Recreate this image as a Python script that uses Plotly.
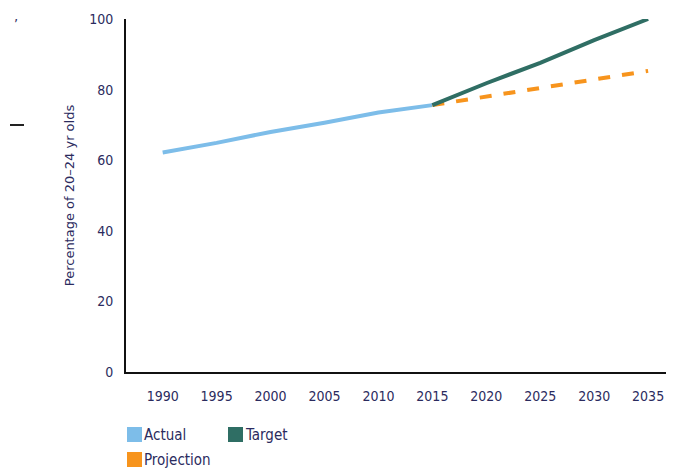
import plotly.graph_objects as go

years_actual = [1990, 1995, 2000, 2005, 2010, 2015]
actual = [62.2, 64.9, 68.0, 70.6, 73.5, 75.6]

years_future = [2015, 2020, 2025, 2030, 2035]
target = [75.6, 81.8, 87.6, 94.0, 100.0]
projection = [75.6, 78.0, 80.5, 83.0, 85.3]

x_ticks = [1990, 1995, 2000, 2005, 2010, 2015, 2020, 2025, 2030, 2035]
y_ticks = [0, 20, 40, 60, 80, 100]

c_actual = "#7dbde9"
c_target = "#2f6e64"
c_proj = "#f7941d"
txt = "#2b2b5e"
font = "DejaVu Sans Condensed, Liberation Sans Narrow, Arial Narrow, sans-serif"

fig = go.Figure()
fig.add_trace(go.Scatter(x=years_actual, y=actual, mode="lines", name="Actual",
                         line=dict(color=c_actual, width=4), cliponaxis=False, showlegend=False))
fig.add_trace(go.Scatter(x=years_future, y=projection, mode="lines", name="Projection",
                         line=dict(color=c_proj, width=4, dash="dash"), cliponaxis=False, showlegend=False))
fig.add_trace(go.Scatter(x=years_future, y=target, mode="lines", name="Target",
                         line=dict(color=c_target, width=4), cliponaxis=False, showlegend=False))

# page has an 8px body margin: figure is drawn 8px right/down of the window origin
OFF = 8
FW, FH = 674 - OFF, 474 - OFF
L, R, T, B = 126 - OFF, 674 - OFF, 19 - OFF, 372 - OFF
W, H = R - L, B - T


def px(x):
    return (x - OFF - L) / W


def py(y):
    return (B - (y - OFF)) / H


shapes = []
annotations = []
legend_items = [("Actual", c_actual, 127, 427), ("Target", c_target, 228, 427), ("Projection", c_proj, 127, 452)]
for name, col, x0, y0 in legend_items:
    shapes.append(dict(type="rect", xref="paper", yref="paper",
                       x0=px(x0), x1=px(x0 + 15), y0=py(y0 + 15), y1=py(y0),
                       fillcolor=col, line=dict(width=0)))
    annotations.append(dict(text=name, xref="paper", yref="paper", x=px(x0 + 15), y=py(y0 + 8),
                            xanchor="left", yanchor="middle", showarrow=False,
                            font=dict(family=font, size=15, color=txt)))

# small stray marks at left edge of the original page
shapes.append(dict(type="line", xref="paper", yref="paper", x0=px(10), x1=px(24), y0=py(125), y1=py(125),
                   line=dict(color="#222222", width=2)))
annotations.append(dict(text="’", xref="paper", yref="paper", x=px(12), y=py(14), showarrow=False,
                        font=dict(family=font, size=14, color=txt)))

fig.update_layout(
    width=FW, height=FH,
    margin=dict(l=L, r=FW - R, t=T, b=FH - B, autoexpand=False),
    paper_bgcolor="white", plot_bgcolor="white",
    font=dict(family=font, size=14, color=txt),
    shapes=shapes, annotations=annotations,
    showlegend=False,
)
fig.update_xaxes(range=[1986.6, 2037.4], tickvals=x_ticks, ticktext=[str(v) for v in x_ticks],
                 showgrid=False, zeroline=False, showline=True, linecolor="#111111", linewidth=2,
                 ticks="", ticklen=0, tickfont=dict(family=font, size=14, color=txt),
                 ticklabelstandoff=10, automargin=False)
fig.update_yaxes(range=[0, 100], tickvals=y_ticks, showgrid=False, zeroline=False, showline=True,
                 linecolor="#111111", linewidth=2, ticks="", ticklen=0,
                 tickfont=dict(family=font, size=14, color=txt), ticklabelstandoff=8, automargin=False,
                 title=dict(text="Percentage of 20–24 yr olds", standoff=12,
                            font=dict(family="DejaVu Sans, sans-serif", size=13, color=txt)))

fig.write_html("out.html")
